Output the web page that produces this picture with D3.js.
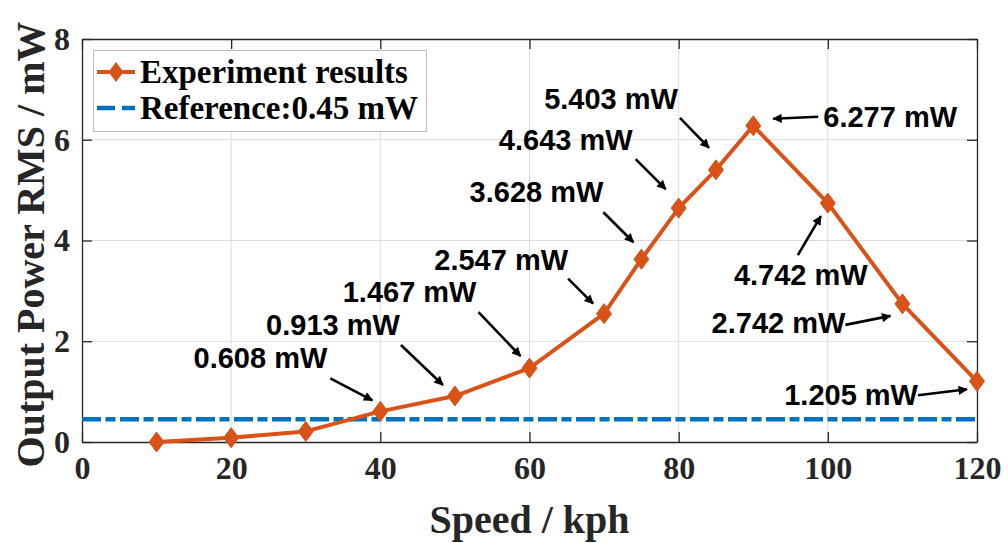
<!DOCTYPE html>
<html>
<head>
<meta charset="utf-8">
<script src="https://cdn.jsdelivr.net/npm/d3@7"></script>
<style>
  html, body { margin: 0; padding: 0; background: #fff; }
  svg { display: block; }
</style>
</head>
<body>
<svg id="chart" width="1008" height="543"></svg>
<script>
// ---- data ----
const speeds = [10, 20, 30, 40, 50, 60, 70, 75, 80, 85, 90, 100, 110, 120];
const power  = [0.00, 0.085, 0.21, 0.608, 0.913, 1.467, 2.547, 3.628, 4.643, 5.403, 6.277, 4.742, 2.742, 1.205];
const referenceValue = 0.45;
const xTicks = [0, 20, 40, 60, 80, 100, 120];
const yTicks = [0, 2, 4, 6, 8];
const labelledSpeeds = [40, 50, 60, 70, 75, 80, 85, 90, 100, 110, 120];
const seriesNames = ["Experiment results", "Reference:0.45 mW"];
const xTitle = "Speed / kph";
const yTitle = "Output Power RMS / mW";

// ---- annotation layout (pixel offsets: tip from point, tail from tip, text from tail) ----
const annLayout = {
  40:  {tip: [-8, -11],  tail: [-42, -22], anchor: "end",    txt: [-3, -10]},
  50:  {tip: [-12, -11], tail: [-42, -40], anchor: "end",    txt: [-1, -10]},
  60:  {tip: [-9, -12],  tail: [-42, -44], anchor: "end",    txt: [-2, -10]},
  70:  {tip: [-11, -10], tail: [-25, -25], anchor: "end",    txt: [0, -9]},
  75:  {tip: [-8, -17],  tail: [-30, -30], anchor: "end",    txt: [0, -10]},
  80:  {tip: [-13, -19], tail: [-30, -30], anchor: "end",    txt: [-3, -9]},
  85:  {tip: [-7, -22],  tail: [-29, -30], anchor: "end",    txt: [-2, -9]},
  90:  {tip: [20, -7],   tail: [45, -2],   anchor: "start",  txt: [5, 10]},
  100: {tip: [-7, 13],   tail: [-23, 39],  anchor: "middle", txt: [3, 30]},
  110: {tip: [-12, 12],  tail: [-45, 9],   anchor: "end",    txt: [0, 8]},
  120: {tip: [-10, 8],   tail: [-49, 6],   anchor: "end",    txt: [0, 10]}
};

const W = 1008, H = 543;
const m = {left: 82, right: 1008 - 977, top: 39, bottom: 543 - 442};
const iw = W - m.left - m.right, ih = H - m.top - m.bottom;

const orange = "#D95319", blue = "#0072BD", axisCol = "#262626";
const serif = "'Liberation Serif', 'Times New Roman', serif";
const sans = "'Liberation Sans', Arial, sans-serif";

const svg = d3.select("#chart");
const defs = svg.append("defs");
defs.append("marker")
  .attr("id", "arrow").attr("viewBox", "0 0 10 10")
  .attr("refX", 9).attr("refY", 5)
  .attr("markerWidth", 4.2).attr("markerHeight", 3.6)
  .attr("markerUnits", "strokeWidth")
  .attr("orient", "auto")
  .append("path").attr("d", "M0,0 L10,5 L0,10 Z").attr("fill", "#000");

const x = d3.scaleLinear().domain([0, 120]).range([0, iw]);
const y = d3.scaleLinear().domain([0, 8]).range([ih, 0]);

const g = svg.append("g").attr("transform", `translate(${m.left},${m.top})`);

// grid
g.append("g").selectAll("line").data(xTicks.slice(1, -1)).join("line")
  .attr("x1", d => x(d)).attr("x2", d => x(d)).attr("y1", 0).attr("y2", ih)
  .attr("stroke", "#dcdcdc").attr("stroke-width", 1);
g.append("g").selectAll("line").data(yTicks.slice(1, -1)).join("line")
  .attr("y1", d => y(d)).attr("y2", d => y(d)).attr("x1", 0).attr("x2", iw)
  .attr("stroke", "#dcdcdc").attr("stroke-width", 1);

// axes
const tickLen = 10;
const xAxisB = d3.axisBottom(x).tickValues(xTicks).tickSizeInner(-tickLen).tickSizeOuter(0).tickPadding(14);
const xAxisT = d3.axisTop(x).tickValues(xTicks).tickSizeInner(-tickLen).tickSizeOuter(0).tickFormat("");
const yAxisL = d3.axisLeft(y).tickValues(yTicks).tickSizeInner(-tickLen).tickSizeOuter(0).tickPadding(12);
const yAxisR = d3.axisRight(y).tickValues(yTicks).tickSizeInner(-tickLen).tickSizeOuter(0).tickFormat("");

function styleAxis(sel) {
  sel.selectAll(".domain").attr("stroke", axisCol).attr("stroke-width", 1.3);
  sel.selectAll(".tick line").attr("stroke", axisCol).attr("stroke-width", 1.3);
  sel.selectAll(".tick text").attr("fill", axisCol)
    .style("font-family", serif).style("font-weight", "bold").style("font-size", "32px");
}
g.append("g").attr("transform", `translate(0,${ih})`).call(xAxisB).call(styleAxis);
g.append("g").call(xAxisT).call(styleAxis);
g.append("g").call(yAxisL).call(styleAxis);
g.append("g").attr("transform", `translate(${iw},0)`).call(yAxisR).call(styleAxis);

// reference line
g.append("line")
  .attr("x1", x(0)).attr("x2", x(120)).attr("y1", y(referenceValue)).attr("y2", y(referenceValue))
  .attr("stroke", blue).attr("stroke-width", 4.5)
  .attr("stroke-dasharray", "19,4.5,10,4.5");

// series
const pts = speeds.map((s, i) => ({s, v: power[i]}));
g.append("path").datum(pts)
  .attr("fill", "none").attr("stroke", orange).attr("stroke-width", 4)
  .attr("stroke-linejoin", "round")
  .attr("d", d3.line().x(d => x(d.s)).y(d => y(d.v)));

const diamond = "M0,-10 L7.5,0 L0,10 L-7.5,0 Z";
g.append("g").selectAll("path").data(pts).join("path")
  .attr("transform", d => `translate(${x(d.s)},${y(d.v)})`)
  .attr("d", diamond).attr("fill", orange).attr("stroke", orange).attr("stroke-width", 1);

// annotations
const ann = g.append("g");
labelledSpeeds.forEach(s => {
  const i = speeds.indexOf(s);
  const L = annLayout[s];
  const px = x(s), py = y(power[i]);
  const tx = px + L.tip[0], ty = py + L.tip[1];
  const sx = tx + L.tail[0], sy = ty + L.tail[1];
  ann.append("line")
    .attr("x1", sx).attr("y1", sy).attr("x2", tx).attr("y2", ty)
    .attr("stroke", "#000").attr("stroke-width", 2.6)
    .attr("marker-end", "url(#arrow)");
  ann.append("text")
    .attr("x", sx + L.txt[0]).attr("y", sy + L.txt[1])
    .attr("text-anchor", L.anchor)
    .style("font-family", sans).style("font-weight", "bold").style("font-size", "29px")
    .attr("fill", "#000")
    .text(power[i].toFixed(3) + " mW");
});

// legend
const lg = svg.append("g");
lg.append("rect").attr("x", 93.5).attr("y", 50.5).attr("width", 333).attr("height", 81)
  .attr("fill", "#fff").attr("stroke", "#bdbdbd").attr("stroke-width", 1);
lg.append("line").attr("x1", 97).attr("x2", 135).attr("y1", 72).attr("y2", 72)
  .attr("stroke", orange).attr("stroke-width", 4);
lg.append("path").attr("transform", "translate(116,72)").attr("d", diamond).attr("fill", orange);
lg.append("line").attr("x1", 97).attr("x2", 135).attr("y1", 108).attr("y2", 108)
  .attr("stroke", blue).attr("stroke-width", 4.5).attr("stroke-dasharray", "18,7,13,20");
lg.selectAll("text.leg").data(seriesNames).join("text").attr("class", "leg")
  .attr("x", 140).attr("y", (d, i) => 83 + i * 36)
  .style("font-family", serif).style("font-weight", "bold").style("font-size", "33px")
  .attr("fill", "#000").text(d => d);

// axis titles
svg.append("text").attr("x", m.left + iw / 2).attr("y", 533).attr("text-anchor", "middle")
  .style("font-family", serif).style("font-weight", "bold").style("font-size", "40px")
  .attr("fill", axisCol).text(xTitle);
svg.append("text").attr("transform", `translate(44,${m.top + ih / 2 + 4}) rotate(-90)`)
  .attr("text-anchor", "middle")
  .style("font-family", serif).style("font-weight", "bold").style("font-size", "40px")
  .attr("fill", axisCol).text(yTitle);
</script>
</body>
</html>
